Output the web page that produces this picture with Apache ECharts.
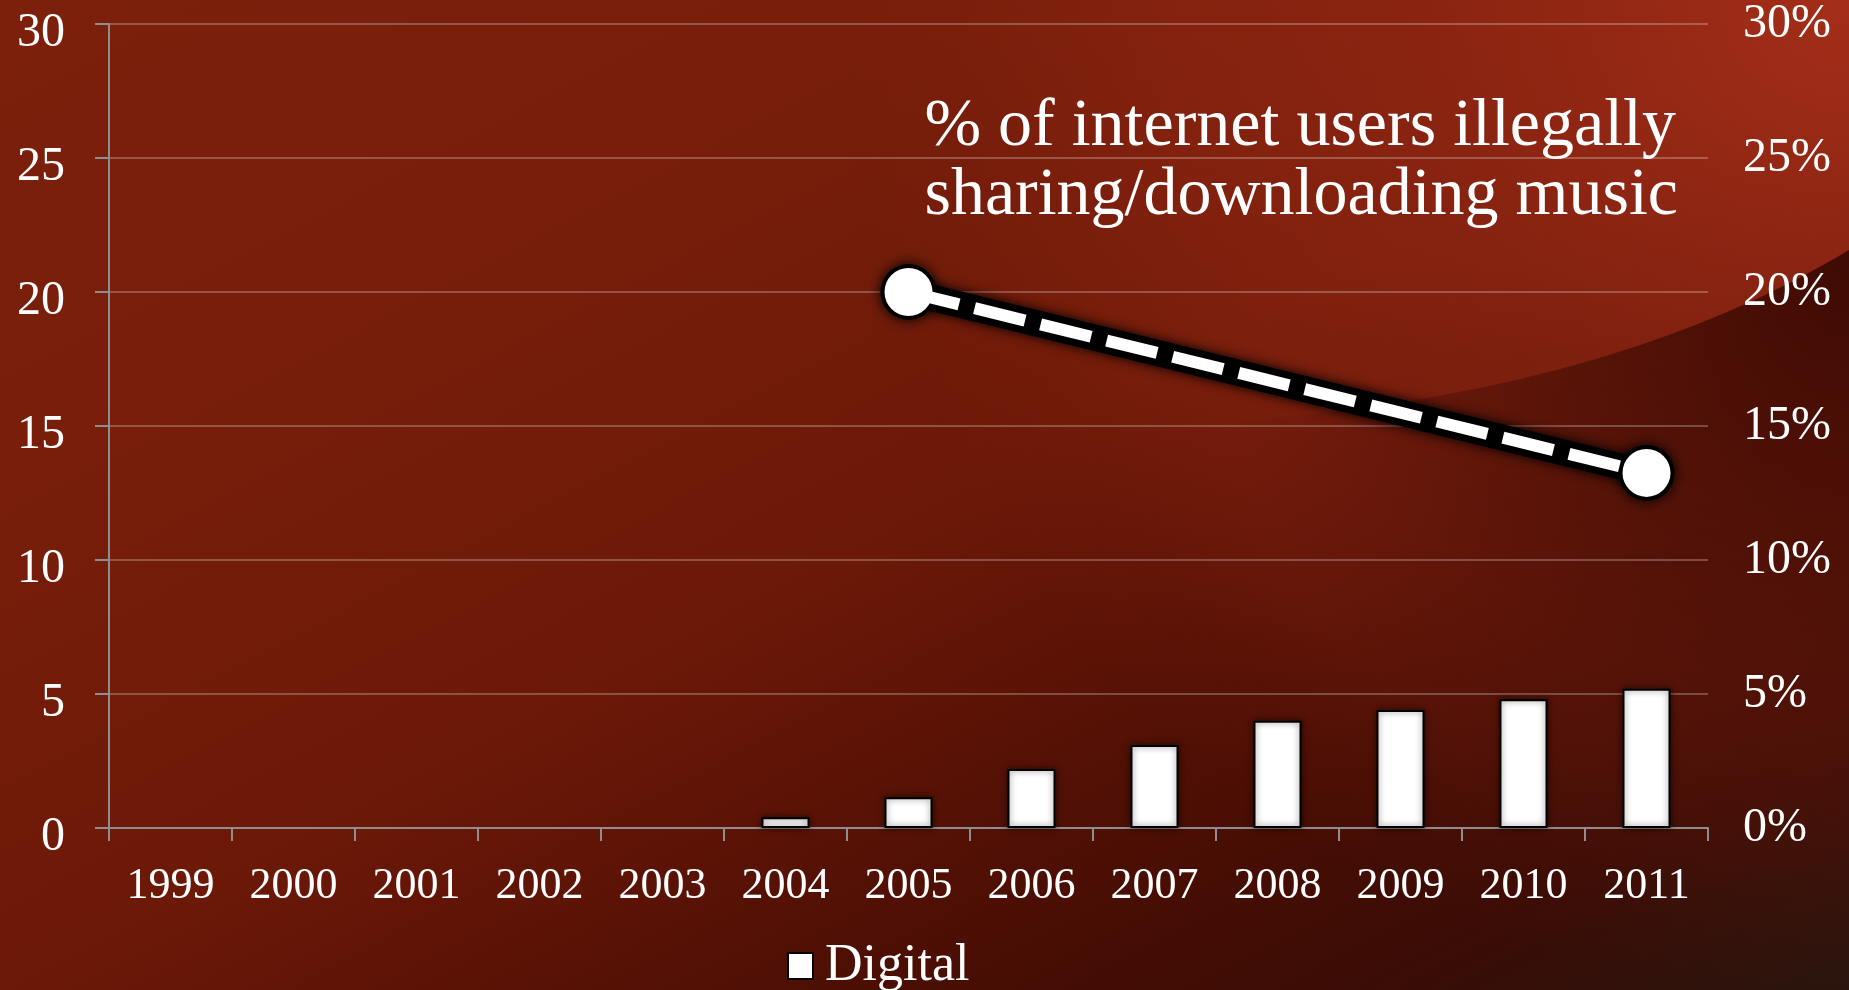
<!DOCTYPE html>
<html>
<head>
<meta charset="utf-8">
<script src="https://cdn.jsdelivr.net/npm/echarts@6/dist/echarts.min.js"></script>
<style>
  html, body { margin: 0; padding: 0; background: #5a1206; }
  #chart { width: 1849px; height: 990px; }
</style>
</head>
<body>
<div id="chart"></div>
<script>
const years = ['1999','2000','2001','2002','2003','2004','2005','2006','2007','2008','2009','2010','2011'];
const digital = [null, null, null, null, null, 0.4, 1.15, 2.2, 3.1, 4.0, 4.4, 4.8, 5.2];
const illegalShare = [null, null, null, null, null, null, 20, null, null, null, null, null, 13.25];
const leftTicks = { min: 0, max: 30, interval: 5 };
const rightTicks = { min: 0, max: 30, interval: 5 };
const titleText = '% of internet users illegally\nsharing/downloading music';
const legendLabel = 'Digital';

const FONT = '"Liberation Serif", "Times New Roman", serif';

// background decoration: darker region below a gentle curve in the lower right
function shadePoints() {
  const p0 = [1849, 250], c = [1614, 391], p2 = [1250, 420];
  const pts = [];
  for (let i = 0; i <= 40; i++) {
    const t = i / 40, u = 1 - t;
    pts.push([u * u * p0[0] + 2 * u * t * c[0] + t * t * p2[0], u * u * p0[1] + 2 * u * t * c[1] + t * t * p2[1]]);
  }
  pts.push([1050, 430], [1050, 990], [1849, 990]);
  return pts;
}

const chart = echarts.init(document.getElementById('chart'), null, { renderer: 'canvas' });

chart.setOption({
  animation: false,
  backgroundColor: {
    type: 'linear', x: 0, y: 0, x2: 792, y2: 1514, global: true,
    colorStops: [
      { offset: 0, color: '#7c200c' },
      { offset: 0.253, color: '#781e0b' },
      { offset: 0.507, color: '#6d1908' },
      { offset: 0.63, color: '#5c1306' },
      { offset: 0.758, color: '#4a0e04' },
      { offset: 0.884, color: '#3a0c05' },
      { offset: 1, color: '#2a140d' }
    ]
  },
  graphic: [
    {
      type: 'rect', z: -20, silent: true,
      shape: { x: 0, y: 0, width: 1849, height: 990 },
      style: {
        fill: {
          type: 'radial', x: 1849, y: 0, r: 1000, global: true,
          colorStops: [
            { offset: 0, color: 'rgba(164,46,25,1)' },
            { offset: 0.2, color: 'rgba(164,46,25,0.72)' },
            { offset: 0.43, color: 'rgba(164,46,25,0.48)' },
            { offset: 0.69, color: 'rgba(164,46,25,0.3)' },
            { offset: 0.9, color: 'rgba(164,46,25,0.06)' },
            { offset: 1, color: 'rgba(164,46,25,0)' }
          ]
        }
      }
    },
    {
      type: 'polygon', z: -10, silent: true,
      shape: { points: shadePoints() },
      style: {
        fill: {
          type: 'radial', x: 1849, y: 260, r: 640, global: true,
          colorStops: [
            { offset: 0, color: 'rgba(48,6,0,0.85)' },
            { offset: 0.5, color: 'rgba(48,6,0,0.45)' },
            { offset: 1, color: 'rgba(48,6,0,0)' }
          ]
        }
      }
    }
  ],
  title: {
    text: titleText,
    right: 166,
    top: 88,
    textStyle: { color: '#ffffff', fontFamily: FONT, fontSize: 68, fontWeight: 'normal', lineHeight: 69 }
  },
  legend: {
    data: [legendLabel],
    left: 782,
    top: 935,
    icon: 'rect',
    itemWidth: 25,
    itemHeight: 26,
    itemStyle: { color: '#ffffff', borderColor: '#000000', borderWidth: 2 },
    textStyle: { color: '#ffffff', fontFamily: FONT, fontSize: 52, padding: [0, 0, 0, 7] }
  },
  grid: { left: 109, right: 141, top: 19, bottom: 162, containLabel: false },
  xAxis: {
    type: 'category',
    data: years,
    axisLine: { lineStyle: { color: '#8e8e8e', width: 2 } },
    axisTick: { show: true, length: 13, lineStyle: { color: '#8e8e8e', width: 2 } },
    axisLabel: { color: '#ffffff', fontFamily: FONT, fontSize: 44, margin: 36 },
    splitLine: { show: false }
  },
  yAxis: [
    {
      type: 'value', min: leftTicks.min, max: leftTicks.max, interval: leftTicks.interval,
      axisLine: { show: true, lineStyle: { color: '#8e8e8e', width: 2 } },
      axisTick: { show: true, length: 14, lineStyle: { color: '#8e8e8e', width: 2 } },
      axisLabel: {
        color: '#ffffff', fontFamily: FONT, fontSize: 48, margin: 44,
        verticalAlign: 'top', lineHeight: 18
      },
      splitLine: { show: true, lineStyle: { color: 'rgba(255,255,255,0.33)', width: 1.6 } }
    },
    {
      type: 'value', min: rightTicks.min, max: rightTicks.max, interval: rightTicks.interval,
      position: 'right',
      axisLine: { show: false },
      axisTick: { show: false },
      axisLabel: { color: '#ffffff', fontFamily: FONT, fontSize: 48, margin: 35, formatter: '{value}%' },
      splitLine: { show: false }
    }
  ],
  series: [
    {
      name: legendLabel,
      type: 'bar',
      data: digital,
      barWidth: 48,
      itemStyle: {
        color: '#ffffff', borderColor: '#000000', borderWidth: 2,
        shadowBlur: 6, shadowColor: 'rgba(0,0,0,0.6)'
      },
      z: 2
    },
    {
      name: 'halo',
      type: 'line',
      yAxisIndex: 1,
      data: illegalShare,
      connectNulls: true,
      symbol: 'circle',
      symbolSize: 56,
      itemStyle: { color: '#000000', shadowBlur: 14, shadowColor: '#000000' },
      lineStyle: { color: '#000000', width: 26, shadowBlur: 12, shadowColor: '#000000' },
      z: 3,
      silent: true
    },
    {
      name: 'illegal',
      type: 'line',
      yAxisIndex: 1,
      data: illegalShare,
      connectNulls: true,
      symbol: 'circle',
      symbolSize: 48,
      itemStyle: { color: '#ffffff', borderWidth: 0 },
      lineStyle: { color: '#ffffff', width: 12, type: [52, 16], cap: 'butt' },
      z: 4
    }
  ]
});
</script>
</body>
</html>
